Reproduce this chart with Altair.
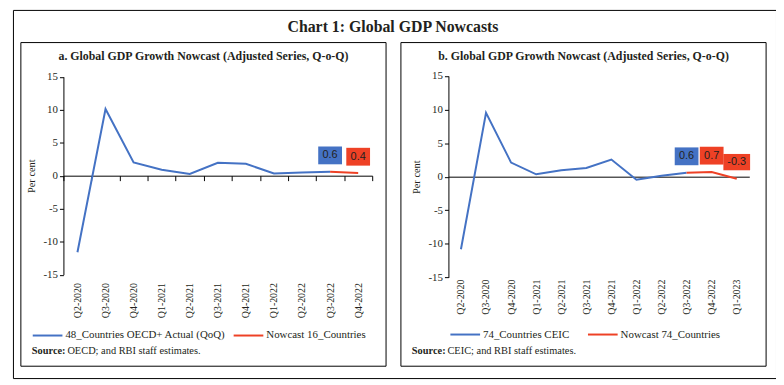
import altair as alt
import pandas as pd

# ---------------- data ----------------
quarters_a = ["Q2-2020", "Q3-2020", "Q4-2020", "Q1-2021", "Q2-2021", "Q3-2021",
              "Q4-2021", "Q1-2022", "Q2-2022", "Q3-2022", "Q4-2022"]
actual_a = [-11.6, 10.1, 2.0, 0.9, 0.25, 1.95, 1.8, 0.35, 0.5, 0.6]   # Q2-2020 .. Q3-2022
nowcast_a = [0.6, 0.4]                                                # Q3-2022 .. Q4-2022
names_a = ["48_Countries OECD+ Actual (QoQ)", "Nowcast 16_Countries"]

quarters_b = ["Q2-2020", "Q3-2020", "Q4-2020", "Q1-2021", "Q2-2021", "Q3-2021",
              "Q4-2021", "Q1-2022", "Q2-2022", "Q3-2022", "Q4-2022", "Q1-2023"]
actual_b = [-10.8, 9.5, 2.1, 0.35, 0.95, 1.3, 2.55, -0.45, 0.15, 0.6]  # Q2-2020 .. Q3-2022
nowcast_b = [0.6, 0.7, -0.3]                                           # Q3-2022 .. Q1-2023
names_b = ["74_Countries CEIC", "Nowcast 74_Countries"]

y_ticks = [-15, -10, -5, 0, 5, 10, 15]

main_title = "Chart 1: Global GDP Nowcasts"
title_a = "a. Global GDP Growth Nowcast (Adjusted Series, Q-o-Q)"
title_b = "b. Global GDP Growth Nowcast (Adjusted Series, Q-o-Q)"
source_a = "OECD; and RBI staff estimates."
source_b = "CEIC; and RBI staff estimates."

# ---------------- style ----------------
BLUE = "#4472C4"
RED = "#EE4125"
TXT = "#231F20"
SERIF = "Liberation Serif"
SANS = "Liberation Sans"


def series_frame(quarters, actual, nowcast, names):
    rows = []
    for i, v in enumerate(actual):
        rows.append({"q": quarters[i], "i": i, "v": v, "series": names[0]})
    start = len(actual) - 1
    for k, v in enumerate(nowcast):
        rows.append({"q": quarters[start + k], "i": start + k, "v": v, "series": names[1]})
    return pd.DataFrame(rows)


def label_frame(quarters, actual, nowcast, names):
    start = len(actual) - 1
    rows = [{"q": quarters[start], "v": actual[-1], "series": names[0]}]
    for k, v in enumerate(nowcast[1:], start=1):
        rows.append({"q": quarters[start + k], "v": v, "series": names[1]})
    return pd.DataFrame(rows)


def panel(quarters, actual, nowcast, names, xr, yr, xoff, lpad, ticks, yoff,
          legx, legy, colpad):
    df = series_frame(quarters, actual, nowcast, names)
    lab = label_frame(quarters, actual, nowcast, names)

    xsc = alt.Scale(type="band", domain=quarters, range=xr, paddingInner=0, paddingOuter=0)
    xax = alt.Axis(orient="bottom", offset=xoff, title=None, labelAngle=-90,
                   labelPadding=lpad, ticks=ticks, tickBand="extent", tickSize=5,
                   tickColor="black", domainColor="black", domainWidth=1,
                   labelFont=SERIF, labelFontSize=10, labelColor=TXT, grid=False)
    X = alt.X("q:N", scale=xsc, axis=xax)

    ysc = alt.Scale(domain=[-15, 15], range=yr, nice=False, zero=False)
    yax = alt.Axis(orient="left", offset=yoff, values=y_ticks, title="Per cent",
                   titleFont=SERIF, titleFontSize=10.5, titleFontWeight="normal",
                   titleColor=TXT, titlePadding=7, labelFont=SERIF, labelFontSize=11,
                   labelColor=TXT, labelPadding=2, tickSize=4, tickColor="black",
                   domainColor="black", grid=False, labelExpr="'' + datum.value")
    Y = alt.Y("v:Q", scale=ysc, axis=yax)

    color = alt.Color(
        "series:N",
        scale=alt.Scale(domain=names, range=[BLUE, RED]),
        legend=alt.Legend(orient="none", legendX=legx, legendY=legy,
                          direction="horizontal", title=None, symbolType="stroke",
                          symbolSize=900, symbolStrokeWidth=2, labelFont=SERIF,
                          labelFontSize=11, labelColor=TXT, labelOffset=2,
                          columnPadding=colpad, padding=0, labelLimit=400),
    )

    lines = alt.Chart(df).mark_line(strokeWidth=2).encode(
        x=X, y=Y, color=color, order="i:Q")

    fill = alt.condition(alt.datum.series == names[0], alt.value(BLUE), alt.value(RED))
    labbase = alt.Chart(lab).transform_calculate(
        lab="replace(format(datum.v, '.1f'), '\u2212', '-')")
    rect_s = labbase.transform_filter("length(datum.lab) <= 3").mark_rect(
        width=24, yOffset=-25.5, y2Offset=-7.5).encode(x=X, y=Y, y2=alt.Y2("v"), color=fill)
    rect_l = labbase.transform_filter("length(datum.lab) > 3").mark_rect(
        width=27, yOffset=-25, y2Offset=-8.5).encode(x=X, y=Y, y2=alt.Y2("v"), color=fill)
    txt = labbase.mark_text(yOffset=-16.5, font=SANS, fontSize=11, color=TXT,
                            baseline="middle").encode(x=X, y=Y, text="lab:N")
    return alt.layer(lines, rect_s, rect_l, txt)


def text_layer(t, x, y, size, weight="normal", align="center"):
    return alt.Chart(pd.DataFrame({"t": [t]})).mark_text(
        font=SERIF, fontSize=size, fontWeight=weight, color=TXT, align=align,
        baseline="alphabetic").encode(x=alt.value(x), y=alt.value(y), text="t:N")


def box_layer(x, x2, y, y2):
    return alt.Chart(pd.DataFrame({"b": [0]})).mark_rect(
        fill="transparent", stroke="black", strokeWidth=1).encode(
        x=alt.value(x), x2=alt.value(x2), y=alt.value(y), y2=alt.value(y2))


pa = panel(quarters_a, actual_a, nowcast_a, names_a, xr=[51, 363], yr=[267.5, 67.5],
           xoff=-204.5, lpad=103, ticks=True, yoff=-51, legx=19, legy=313, colpad=4)
pb = panel(quarters_b, actual_b, nowcast_b, names_b, xr=[440, 744], yr=[270.3, 66.7],
           xoff=-203.5, lpad=103.5, ticks=False, yoff=-440, legx=441, legy=312, colpad=14)

chart = alt.layer(
    box_layer(8, 377, 33, 360),
    box_layer(392, 761, 33, 360),
    text_layer(main_title, 384, 22, 16, "bold"),
    text_layer(title_a, 192.5, 51, 12, "bold"),
    text_layer(title_b, 576.5, 51, 12, "bold"),
    text_layer("Source:", 19, 348, 10.5, "bold", "left"),
    text_layer(source_a, 55, 348, 10.5, "normal", "left"),
    text_layer("Source:", 403, 348, 10.5, "bold", "left"),
    text_layer(source_b, 439, 348, 10.5, "normal", "left"),
    pa,
    pb,
).resolve_scale(x="independent", y="independent", color="independent").properties(
    width=771, height=372, padding=0
).configure_view(stroke="black", strokeWidth=1)

chart.save("out.html", embed_options={"renderer": "svg", "actions": False})
